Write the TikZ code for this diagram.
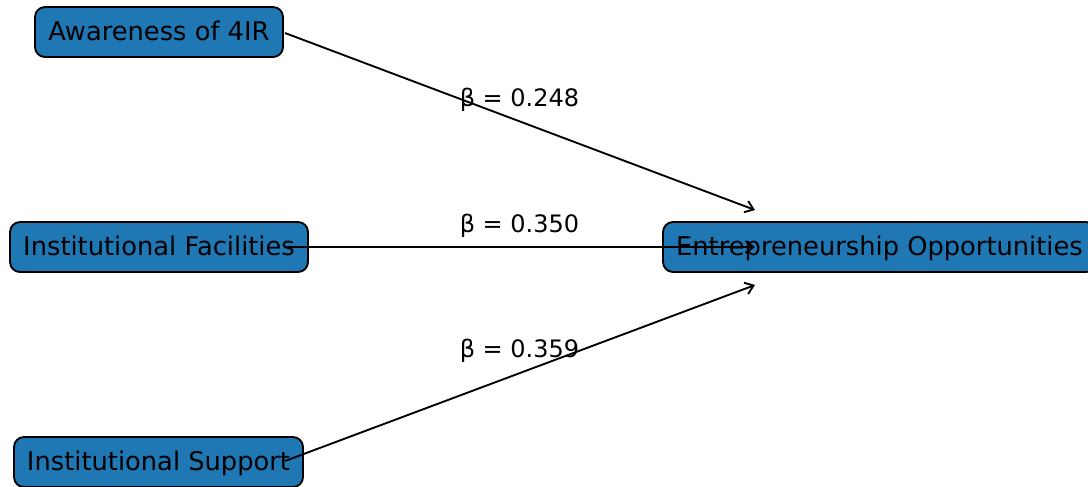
\documentclass[tikz,border=0pt]{standalone}
\usepackage{fontspec}
\setmainfont{DejaVu Sans}
\usetikzlibrary{arrows.meta}
\definecolor{mplblue}{HTML}{1F77B4}
\tikzset{
  boxnode/.style={draw=black, fill=mplblue, line width=1.4pt, rounded corners=7.5pt,
    minimum height=50*0.75pt, inner sep=0pt, text height=17pt, text depth=4.6pt,
    font=\fontsize{19.3}{23}\selectfont},
  conn/.style={line width=1.4pt, -{Straight Barb[length=6pt,width=9pt,line width=1.4pt]}},
  betalabel/.style={font=\fontsize{18}{22}\selectfont, inner sep=0pt}
}
\begin{document}
\begin{tikzpicture}[x=0.75pt,y=-0.75pt]
\useasboundingbox (0,0) rectangle (1088,486);
\clip (0,0) rectangle (1088,486);
\node[boxnode, minimum width=248*0.75pt] (aw) at (159,32) {Awareness of 4IR};
\node[boxnode, minimum width=298*0.75pt] (fac) at (159,247) {Institutional Facilities};
\node[boxnode, minimum width=289*0.75pt] (sup) at (158.5,462) {Institutional Support};
\node[boxnode, minimum width=433*0.75pt] (eo) at (879.5,247) {Entrepreneurship Opportunities};
\coordinate (a1) at (285,33);
\coordinate (a2) at (285,247);
\coordinate (a3) at (285,461);
\coordinate (t1) at (755,210);
\coordinate (t2) at (755,247);
\coordinate (t3) at (755,285);
\draw[conn] (a1) -- (t1);
\draw[conn] (a2) -- (t2);
\draw[conn] (a3) -- (t3);
\node[betalabel] (l1) at (519.5,100) {β = 0.248};
\node[betalabel] (l2) at (519.5,226) {β = 0.350};
\node[betalabel] (l3) at (519.5,351) {β = 0.359};
\end{tikzpicture}
\end{document}
